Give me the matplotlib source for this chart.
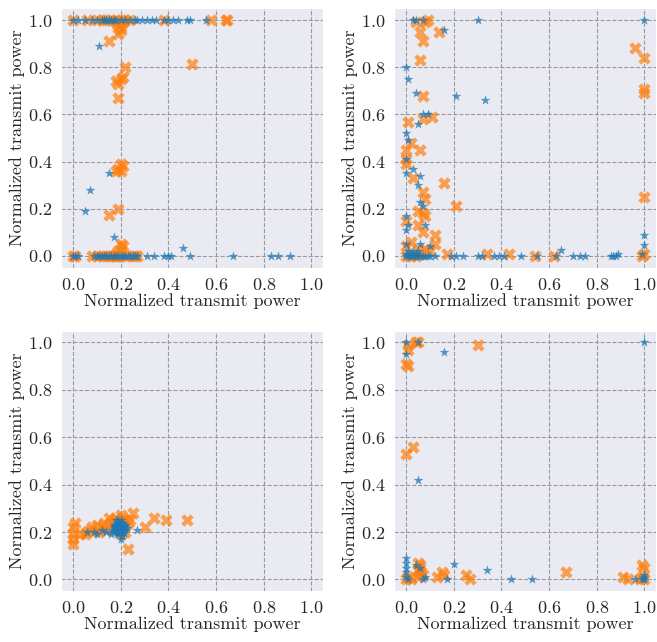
import numpy as np
import matplotlib
matplotlib.use("Agg")
import matplotlib.pyplot as plt
import seaborn as sns

sns.set_style("darkgrid", {"grid.linestyle": "--", "grid.color": "#999999"})
plt.rcParams["font.family"] = ["cmr10", "DejaVu Serif"]
plt.rcParams["axes.formatter.use_mathtext"] = True

## Panel 1 (top left)
p1_blue_x = [0.0, 0.02, 0.05, 0.08, 0.10, 0.12, 0.13, 0.14, 0.15, 0.16, 0.17, 0.18, 0.20, 0.22,
             0.24, 0.26, 0.27, 0.29, 0.31, 0.33, 0.35, 0.38, 0.40, 0.42, 0.44, 0.48, 0.49, 0.56,
             0.11, 0.15, 0.07, 0.05, 0.17, 0.46,
             0.0, 0.01, 0.02, 0.09, 0.10, 0.11, 0.12, 0.13, 0.14, 0.15, 0.16, 0.17, 0.18, 0.19,
             0.20, 0.21, 0.22, 0.23, 0.24, 0.25, 0.26, 0.27, 0.31, 0.34, 0.38, 0.40, 0.41, 0.49,
             0.67, 0.83, 0.86, 0.91]
p1_blue_y = [1.0] * 28 + [0.89, 0.35, 0.28, 0.19, 0.08, 0.035] + [0.0] * 32
p1_orange_x = [0.0, 0.06, 0.10, 0.12, 0.14, 0.16, 0.18, 0.20, 0.22, 0.24, 0.38, 0.58, 0.64, 0.645,
               0.19, 0.20, 0.19, 0.20, 0.21, 0.18, 0.15, 0.50,
               0.22, 0.21, 0.20, 0.18, 0.19, 0.19,
               0.20, 0.21, 0.19, 0.18, 0.20, 0.19, 0.15,
               0.20, 0.21, 0.20, 0.19, 0.18,
               0.0, 0.01, 0.08, 0.10, 0.12, 0.14, 0.15, 0.16, 0.17, 0.18, 0.19, 0.20, 0.22,
               0.25, 0.26, 0.27]
p1_orange_y = [1.0] * 14 + [0.98, 0.96, 0.94, 0.97, 0.99, 0.99, 0.91, 0.815,
                            0.80, 0.76, 0.75, 0.74, 0.73, 0.67,
                            0.39, 0.38, 0.37, 0.36, 0.36, 0.20, 0.175,
                            0.05, 0.04, 0.03, 0.02, 0.01] + [0.0] * 16

## Panel 2 (top right)
p2_blue_x = [0.03, 0.04, 0.07, 0.30, 1.0, 0.16, 0.0, 0.01, 0.04, 0.21, 0.33, 0.07, 0.09, 0.05,
             0.0, 0.01, 0.0, 0.03, 0.0, 0.06, 0.05, 0.06, 0.07, 0.0, 0.08, 0.01, 0.0, 0.06,
             0.0, 0.10, 1.0, 1.0, 0.99, 0.65, 0.89, 0.88, 0.86,
             0.0, 0.01, 0.02, 0.03, 0.04, 0.05, 0.06, 0.07, 0.08, 0.09, 0.10, 0.12, 0.19,
             0.21, 0.24, 0.30, 0.32, 0.37, 0.39, 0.41, 0.48, 0.55, 0.63, 0.70, 0.73, 0.75, 0.87,
             0.0, 0.01, 0.02, 0.03, 0.04, 0.05]
p2_blue_y = [1.0, 1.0, 1.0, 1.0, 1.0, 0.96, 0.80, 0.75, 0.69, 0.68, 0.66, 0.60, 0.60, 0.56,
             0.52, 0.49, 0.41, 0.37, 0.35, 0.34, 0.30, 0.23, 0.21, 0.17, 0.13, 0.13, 0.11, 0.05,
             0.05, 0.04, 0.09, 0.045, 0.01, 0.025, 0.01, 0.0, 0.0] + [0.0] * 27 + \
            [0.01, 0.02, 0.01, 0.02, 0.01, 0.02]
p2_orange_x = [0.04, 0.08, 0.09, 0.06, 0.14, 0.07, 0.06, 0.07, 0.11, 0.07, 0.01, 0.02, 0.06, 0.0,
               0.0, 0.0, 0.03, 0.16, 0.07, 0.08, 0.21, 0.05, 0.07, 0.08, 0.0, 0.05, 0.07, 0.12,
               0.12, 0.02, 0.0, 0.05, 0.08, 0.10, 0.17, 0.34, 0.43, 0.54, 0.62, 0.96, 1.0, 1.0,
               1.0, 1.0, 1.0, 0.99, 0.0, 0.02, 0.04, 0.06]
p2_orange_y = [0.99, 0.99, 1.0, 0.95, 0.95, 0.91, 0.83, 0.68, 0.59, 0.58, 0.57, 0.48, 0.45, 0.45,
               0.41, 0.39, 0.33, 0.31, 0.27, 0.24, 0.21, 0.19, 0.18, 0.17, 0.15, 0.13, 0.10, 0.09,
               0.05, 0.06, 0.04, 0.03, 0.03, 0.02, 0.01, 0.01, 0.01, 0.0, 0.0, 0.88, 0.84, 0.71,
               0.69, 0.25, 0.01, 0.0, 0.0, 0.0, 0.0, 0.01]

## Panel 3 (bottom left)
p3_blue_x = [0.06, 0.09, 0.10, 0.12, 0.14, 0.16, 0.20, 0.27,
             0.17, 0.18, 0.19, 0.20, 0.21, 0.22, 0.17, 0.18, 0.19, 0.20, 0.21, 0.22,
             0.17, 0.18, 0.19, 0.20, 0.21, 0.22, 0.18, 0.19, 0.20, 0.21, 0.19, 0.20,
             0.165, 0.175, 0.185, 0.195, 0.205, 0.215, 0.225, 0.185, 0.195, 0.205, 0.215]
p3_blue_y = [0.20, 0.20, 0.19, 0.21, 0.20, 0.19, 0.17, 0.21,
             0.20, 0.20, 0.20, 0.20, 0.20, 0.21, 0.22, 0.22, 0.22, 0.22, 0.22, 0.22,
             0.23, 0.23, 0.24, 0.24, 0.23, 0.23, 0.25, 0.25, 0.25, 0.24, 0.19, 0.21,
             0.21, 0.215, 0.225, 0.235, 0.215, 0.225, 0.215, 0.195, 0.205, 0.185, 0.195]
p3_orange_x = [0.0, 0.0, 0.0, 0.0, 0.01, 0.03, 0.05, 0.07, 0.08, 0.10, 0.12, 0.13, 0.15, 0.16,
               0.17, 0.18, 0.20, 0.21, 0.22, 0.23, 0.24, 0.25, 0.22, 0.20, 0.30, 0.34, 0.39,
               0.48, 0.23, 0.14, 0.06, 0.11, 0.17, 0.19]
p3_orange_y = [0.15, 0.17, 0.19, 0.22, 0.24, 0.19, 0.19, 0.21, 0.22, 0.23, 0.22, 0.24, 0.26, 0.24,
               0.25, 0.26, 0.27, 0.26, 0.25, 0.24, 0.25, 0.28, 0.20, 0.19, 0.22, 0.26, 0.25,
               0.25, 0.13, 0.21, 0.20, 0.20, 0.23, 0.22]

## Panel 4 (bottom right)
p4_blue_x = [0.0, 0.05, 0.0, 0.16, 1.0, 0.05, 0.0, 0.0, 0.0, 0.0, 0.0, 0.04, 0.07, 0.08, 0.20,
             0.34, 0.17, 0.44, 0.53, 0.96, 0.99, 1.0, 1.0, 1.0, 0.01, 0.06]
p4_blue_y = [1.0, 1.0, 0.95, 0.96, 1.0, 0.42, 0.09, 0.07, 0.05, 0.03, 0.01, 0.06, 0.0, 0.01,
             0.065, 0.04, 0.0, 0.0, 0.0, 0.0, 0.0, 0.01, 0.0, 0.02, 0.0, 0.05]
p4_orange_x = [0.01, 0.01, 0.04, 0.05, 0.30, 0.0, 0.01, 0.0, 0.03, 0.0, 0.01, 0.02, 0.05, 0.06,
               0.05, 0.06, 0.07, 0.05, 0.06, 0.13, 0.15, 0.16, 0.25, 0.27, 0.67, 0.91, 0.93,
               0.99, 1.0, 0.99, 1.0, 0.98]
p4_orange_y = [0.99, 0.97, 1.0, 1.0, 0.99, 0.91, 0.90, 0.53, 0.56, 0.0, 0.01, 0.0, 0.07, 0.06,
               0.04, 0.03, 0.02, 0.01, 0.05, 0.01, 0.03, 0.02, 0.02, 0.0, 0.03, 0.01, 0.0,
               0.06, 0.05, 0.01, 0.0, 0.0]

panels = [(p1_blue_x, p1_blue_y, p1_orange_x, p1_orange_y),
          (p2_blue_x, p2_blue_y, p2_orange_x, p2_orange_y),
          (p3_blue_x, p3_blue_y, p3_orange_x, p3_orange_y),
          (p4_blue_x, p4_blue_y, p4_orange_x, p4_orange_y)]

fig = plt.figure(figsize=(6.57, 6.42), dpi=100)
positions = [[0.093, 0.583, 0.399, 0.404], [0.600, 0.583, 0.399, 0.404],
             [0.093, 0.079, 0.399, 0.406], [0.600, 0.079, 0.399, 0.406]]

for pos, (bx, by, ox, oy) in zip(positions, panels):
    ax = fig.add_axes(pos)
    ax.scatter(ox, oy, marker='X', s=80, color='tab:orange', alpha=0.7, linewidths=0)
    ax.scatter(bx, by, marker='*', s=55, color='tab:blue', alpha=0.75, linewidths=0)
    ax.set_xlim(-0.05, 1.05)
    ax.set_ylim(-0.05, 1.05)
    ax.set_xticks(np.arange(0, 1.01, 0.2))
    ax.set_yticks(np.arange(0, 1.01, 0.2))
    ax.set_xlabel('Normalized transmit power', fontsize=13, labelpad=0)
    ax.set_ylabel('Normalized transmit power', fontsize=13, labelpad=2)
    ax.tick_params(labelsize=13, pad=3)

fig.savefig('out.png', dpi=100)
